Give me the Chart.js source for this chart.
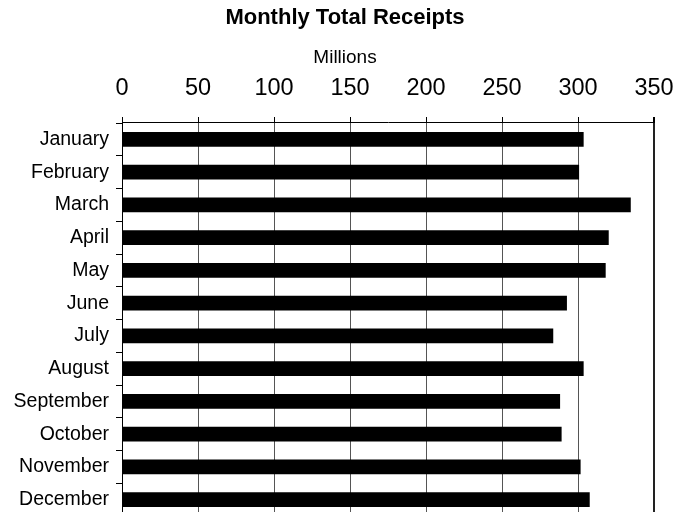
<!DOCTYPE html>
<html>
<head>
<meta charset="utf-8">
<script src="https://cdn.jsdelivr.net/npm/chart.js@4"></script>
<style>
  html, body { margin: 0; padding: 0; overflow: hidden; background: #fff; }
</style>
</head>
<body>
<canvas id="receipts" width="690" height="516"></canvas>
<script>
// Meses y valores (millones)
const months = ["January", "February", "March", "April", "May", "June",
  "July", "August", "September", "October", "November", "December"];
const receipts = [303.5, 300.5, 334.5, 320, 318, 292.5, 283.5, 303.5, 288, 289, 301.5, 307.5];
const xMin = 0;
const xMax = 350;
const xStep = 50;

const font = "Liberation Sans, Arial, sans-serif";

new Chart(document.getElementById("receipts"), {
  type: "bar",
  data: {
    labels: months,
    datasets: [
      {
        data: receipts,
        backgroundColor: "#000000",
        barThickness: 14,
      },
    ],
  },
  options: {
    indexAxis: "y",
    responsive: false,
    animation: false,
    layout: { padding: 0 },
    plugins: {
      legend: { display: false },
      tooltip: { enabled: false },
      title: {
        display: true,
        text: "Monthly Total Receipts",
        color: "#000",
        font: { family: font, size: 22, weight: "bold" },
        padding: { top: 5, bottom: 0 },
      },
      subtitle: {
        display: true,
        text: "Millions",
        color: "#000",
        font: { family: font, size: 19 },
        padding: { top: 15, bottom: 0 },
      },
    },
    scales: {
      x: {
        position: "top",
        min: xMin,
        max: xMax,
        ticks: {
          stepSize: xStep,
          color: "#000",
          font: { family: font, size: 23.5 },
          padding: 14,
        },
        grid: {
          color: (ctx) => (ctx.tick && ctx.tick.value === xMax ? "#222" : "#555"),
          lineWidth: (ctx) => (ctx.tick && ctx.tick.value === xMax ? 2 : 1),
          tickColor: "#000",
          tickLength: 6,
        },
        border: { color: "#000" },
        afterFit: (scale) => {
          scale.height = 53.8;
          scale.paddingLeft = 0;
          scale.paddingRight = 0;
        },
      },
      y: {
        ticks: {
          color: "#000",
          font: { family: font, size: 19.5 },
          padding: 7,
        },
        grid: {
          drawOnChartArea: false,
          tickColor: "#000",
          tickLength: 6,
        },
        border: { color: "#000" },
        afterFit: (scale) => {
          scale.width = 122;
          scale.paddingTop = 0;
          scale.paddingBottom = 0;
        },
      },
      // eje vacío a la derecha para dejar el margen
      y2: {
        type: "linear",
        position: "right",
        ticks: { display: false },
        grid: { display: false },
        border: { display: false },
        afterFit: (scale) => {
          scale.width = 36;
          scale.paddingTop = 0;
          scale.paddingBottom = 0;
        },
      },
    },
  },
});
</script>
</body>
</html>
